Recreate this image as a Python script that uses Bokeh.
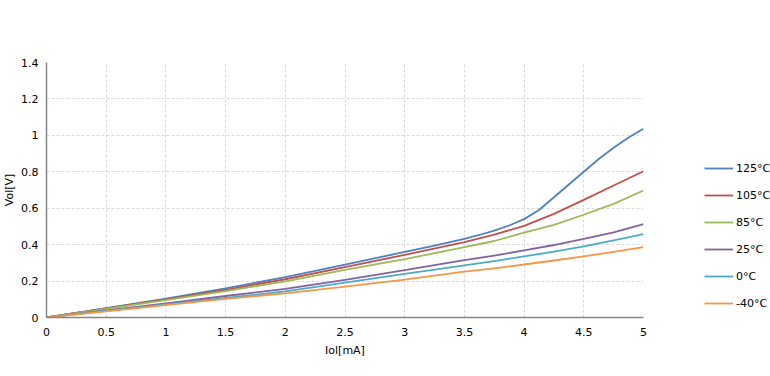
from bokeh.plotting import figure
from bokeh.models import Legend, LegendItem, FixedTicker
from bokeh.embed import file_html
from bokeh.resources import INLINE

iol_125 = [0, 0.5, 1, 1.5, 2, 2.5, 3, 3.25, 3.5, 3.625, 3.75, 3.875, 4, 4.125, 4.25, 4.375, 4.5, 4.625, 4.75, 4.875, 5]
vol_125 = [0, 0.052, 0.104, 0.16, 0.222, 0.29, 0.36, 0.395, 0.432, 0.453, 0.477, 0.505, 0.54, 0.59, 0.66, 0.73, 0.80, 0.87, 0.932, 0.988, 1.036]

iol = [0, 0.5, 1, 1.5, 2, 2.5, 3, 3.5, 3.75, 4, 4.25, 4.5, 4.75, 5]
vol_105 = [0, 0.05, 0.1, 0.152, 0.21, 0.276, 0.344, 0.414, 0.455, 0.503, 0.569, 0.646, 0.725, 0.803]
vol_85 = [0, 0.047, 0.095, 0.145, 0.198, 0.262, 0.32, 0.386, 0.42, 0.466, 0.509, 0.564, 0.624, 0.697]
vol_25 = [0, 0.039, 0.078, 0.118, 0.157, 0.207, 0.26, 0.315, 0.34, 0.368, 0.398, 0.432, 0.468, 0.512]
vol_0 = [0, 0.036, 0.072, 0.107, 0.144, 0.192, 0.24, 0.286, 0.31, 0.335, 0.362, 0.39, 0.423, 0.458]
vol_m40 = [0, 0.034, 0.068, 0.102, 0.133, 0.17, 0.208, 0.252, 0.27, 0.291, 0.313, 0.335, 0.36, 0.386]

series_names = ["125°C", "105°C", "85°C", "25°C", "0°C", "-40°C"]
series_x = [iol_125, iol, iol, iol, iol, iol]
series_vals = [vol_125, vol_105, vol_85, vol_25, vol_0, vol_m40]
colors = ["#4F81BD", "#C0504D", "#9BBB59", "#8064A2", "#4BACC6", "#F79646"]

x_ticks = [0, 0.5, 1, 1.5, 2, 2.5, 3, 3.5, 4, 4.5, 5]
x_tick_labels = ["0", "0.5", "1", "1.5", "2", "2.5", "3", "3.5", "4", "4.5", "5"]
y_ticks = [0, 0.2, 0.4, 0.6, 0.8, 1.0, 1.2, 1.4]
y_tick_labels = ["0", "0.2", "0.4", "0.6", "0.8", "1", "1.2", "1.4"]

FONT = "DejaVu Sans"

p = figure(frame_width=597, frame_height=255, output_backend="svg", toolbar_location=None,
           x_range=(0, 5), y_range=(0, 1.4),
           min_border_left=46, min_border_top=62, min_border_right=127, min_border_bottom=53)
p.outline_line_color = None

items = []
for name, xs, vals, c in zip(series_names, series_x, series_vals, colors):
    r = p.line(xs, vals, line_color=c, line_width=1.8, line_join="round")
    items.append(LegendItem(label=name, renderers=[r]))

for ax, ticks, labels in ((p.xaxis[0], x_ticks, x_tick_labels), (p.yaxis[0], y_ticks, y_tick_labels)):
    ax.ticker = FixedTicker(ticks=ticks)
    ax.major_label_overrides = {t: l for t, l in zip(ticks, labels)}
    ax.major_tick_line_color = None
    ax.minor_tick_line_color = None
    ax.major_tick_out = 0
    ax.major_tick_in = 0
    ax.minor_tick_out = 0
    ax.axis_line_color = "#868686"
    ax.axis_line_width = 1.5
    ax.major_label_text_font = FONT
    ax.major_label_text_font_size = "11px"
    ax.major_label_text_color = "#000000"
    ax.axis_label_text_font = FONT
    ax.axis_label_text_font_size = "11px"
    ax.axis_label_text_font_style = "normal"
    ax.axis_label_text_color = "#000000"

p.xaxis.axis_label = "Iol[mA]"
p.yaxis.axis_label = "Vol[V]"
p.xaxis.major_label_standoff = 10
p.yaxis.major_label_standoff = 8
p.xaxis.axis_label_standoff = 5
p.yaxis.axis_label_standoff = 2

p.grid.grid_line_color = "#D9D9D9"
p.grid.grid_line_dash = "3 2"
p.grid.grid_line_width = 1

legend = Legend(items=items, location=(61, 4), orientation="vertical",
                glyph_width=29, glyph_height=20, spacing=7, label_standoff=3,
                padding=0, margin=0, border_line_color=None, background_fill_alpha=0,
                label_text_font=FONT, label_text_font_size="11px", label_text_color="#000000")
p.add_layout(legend, "right")

open("out.html", "w").write(file_html(p, INLINE))
